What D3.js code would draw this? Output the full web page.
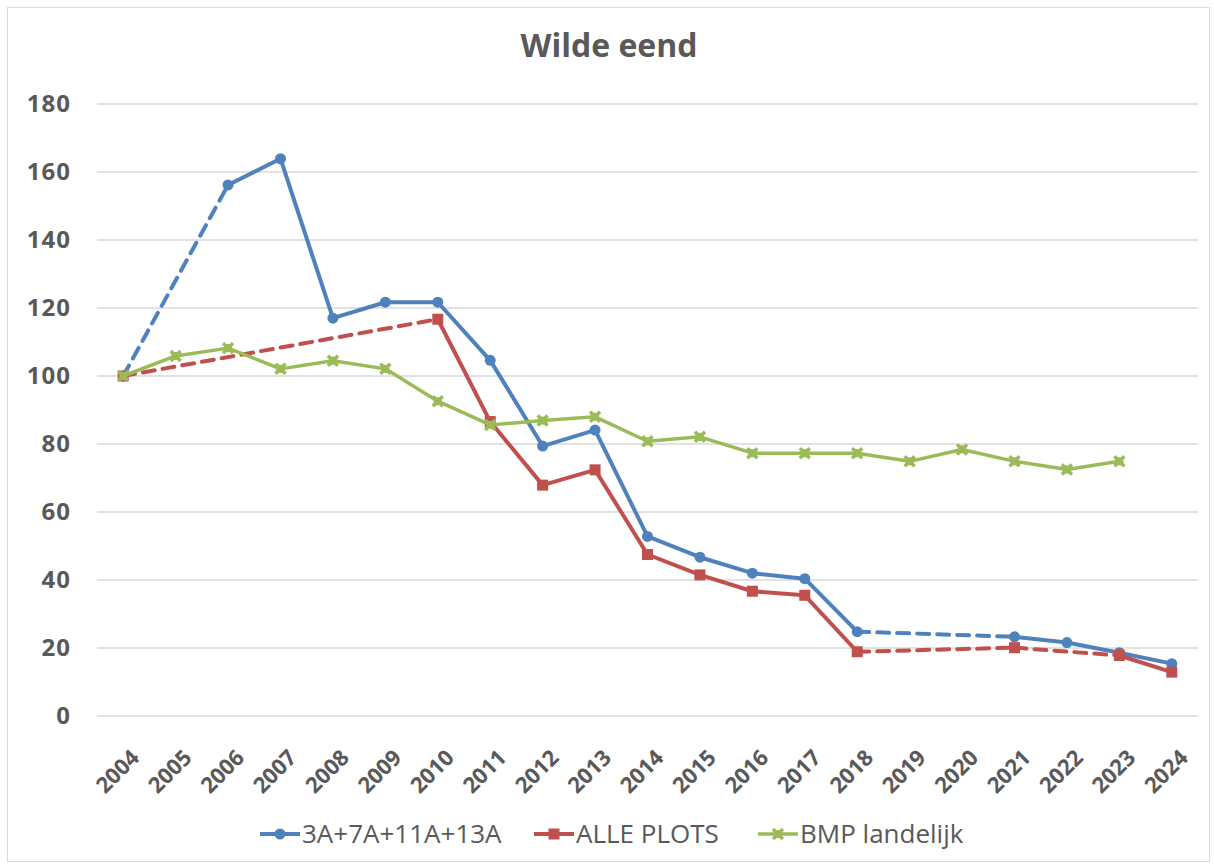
<!DOCTYPE html>
<html>
<head>
<meta charset="utf-8">
<script src="https://cdn.jsdelivr.net/npm/d3@7"></script>
<style>
  body { margin: 0; background: #fff; }
  svg { display: block; }
</style>
</head>
<body>
<div id="chart"></div>
<script>
const years = ['2004','2005','2006','2007','2008','2009','2010','2011','2012','2013','2014',
  '2015','2016','2017','2018','2019','2020','2021','2022','2023','2024']
// null = no count that year
const plots3A = [100, null, 156.2, 163.9, 117, 121.7, 121.7, 104.6, 79.4, 84.1, 52.8,
  46.7, 42.0, 40.4, 24.8, null, null, 23.3, 21.6, 18.6, 15.4]
const allePlots = [100, null, null, null, null, null, 116.7, 86.6, 67.9, 72.4, 47.5,
  41.5, 36.7, 35.5, 18.9, null, null, 20.1, null, 17.8, 12.9]
const bmp = [100, 105.9, 108.2, 102.1, 104.5, 102.1, 92.6, 85.6, 86.9, 88.0, 80.8,
  82.1, 77.3, 77.3, 77.3, 74.9, 78.4, 74.9, 72.5, 74.9, null]
const yTicks = [0, 20, 40, 60, 80, 100, 120, 140, 160, 180]

const series = [
  { name: '3A+7A+11A+13A', values: plots3A, color: '#4f81bd', marker: 'circle', width: 4 },
  { name: 'ALLE PLOTS', values: allePlots, color: '#c0504d', marker: 'square', width: 4 },
  { name: 'BMP landelijk', values: bmp, color: '#9bbb59', marker: 'x', width: 3.5 }
]

const width = 1214
const height = 866
const margin = { top: 104, right: 16, bottom: 150, left: 97 }
const font = '"Open Sans", sans-serif'
const textColor = '#595959'

const svg = d3.select('#chart').append('svg')
  .attr('width', width)
  .attr('height', height)

// chart border
svg.append('rect')
  .attr('x', 7.5).attr('y', 7.5)
  .attr('width', width - 12).attr('height', height - 12)
  .attr('fill', '#fff').attr('stroke', '#d9d9d9')

const x = d3.scalePoint().domain(years)
  .range([margin.left, width - margin.right]).padding(0.5)
const y = d3.scaleLinear().domain([0, 180])
  .range([height - margin.bottom, margin.top])

svg.append('text')
  .attr('x', 609).attr('y', 57)
  .attr('text-anchor', 'middle')
  .style('font', `bold 32px ${font}`)
  .attr('fill', textColor)
  .text('Wilde eend')

// grid
svg.append('g')
  .selectAll('line')
  .data(yTicks)
  .join('line')
  .attr('x1', margin.left).attr('x2', width - margin.right)
  .attr('y1', d => y(d)).attr('y2', d => y(d))
  .attr('stroke', '#d9d9d9').attr('stroke-width', 1.5)

const yAxis = svg.append('g')
  .attr('transform', `translate(${margin.left - 26},0)`)
  .call(d3.axisLeft(y).tickValues(yTicks).tickSize(0).tickPadding(0))
yAxis.select('.domain').remove()
yAxis.selectAll('text')
  .style('font', `bold 24px ${font}`)
  .style('letter-spacing', '1px')
  .attr('fill', textColor)

const xAxis = svg.append('g')
  .attr('transform', `translate(0,${height - margin.bottom})`)
  .call(d3.axisBottom(x).tickSize(0))
xAxis.select('.domain').remove()
xAxis.selectAll('text')
  .style('font', `bold 22px ${font}`)
  .attr('fill', textColor)
  .attr('text-anchor', 'end')
  .attr('x', 0).attr('y', 0).attr('dy', null)
  .attr('transform', 'translate(17,43) rotate(-45)')

function drawMarker(g, type, color, cx, cy) {
  if (type === 'circle') {
    g.append('circle').attr('cx', cx).attr('cy', cy).attr('r', 5.5).attr('fill', color)
  } else if (type === 'square') {
    g.append('rect').attr('x', cx - 5.5).attr('y', cy - 5.5)
      .attr('width', 11).attr('height', 11).attr('fill', color)
  } else {
    g.append('rect').attr('x', cx - 4).attr('y', cy - 4)
      .attr('width', 8).attr('height', 8).attr('fill', color)
    g.append('path')
      .attr('d', `M${cx - 5},${cy - 5}L${cx + 5},${cy + 5}M${cx + 5},${cy - 5}L${cx - 5},${cy + 5}`)
      .attr('stroke', color).attr('stroke-width', 3.5)
  }
}

series.forEach(s => {
  const g = svg.append('g')
  const pts = s.values.map((v, i) => ({ year: years[i], i, v })).filter(d => d.v !== null)
  // solid where years are consecutive, dashed across missing years
  for (let k = 1; k < pts.length; k++) {
    const a = pts[k - 1], b = pts[k]
    g.append('line')
      .attr('x1', x(a.year)).attr('y1', y(a.v))
      .attr('x2', x(b.year)).attr('y2', y(b.v))
      .attr('stroke', s.color)
      .attr('stroke-width', s.width)
      .attr('stroke-linecap', 'round')
      .attr('stroke-dasharray', b.i - a.i > 1 ? '12,8' : null)
  }
  pts.forEach(d => drawMarker(g, s.marker, s.color, x(d.year), y(d.v)))
})

// legend
const legendY = 834
const legendX = [260, 534, 758]
series.forEach((s, i) => {
  const g = svg.append('g').attr('transform', `translate(${legendX[i]},${legendY})`)
  g.append('line').attr('x1', 0).attr('x2', 40).attr('y1', 0).attr('y2', 0)
    .attr('stroke', s.color).attr('stroke-width', s.width)
  drawMarker(g, s.marker, s.color, 20, 0)
  g.append('text')
    .attr('x', 42).attr('y', 0).attr('dy', '0.36em')
    .style('font', `26px ${font}`)
    .attr('fill', textColor)
    .text(s.name)
})
</script>
</body>
</html>
